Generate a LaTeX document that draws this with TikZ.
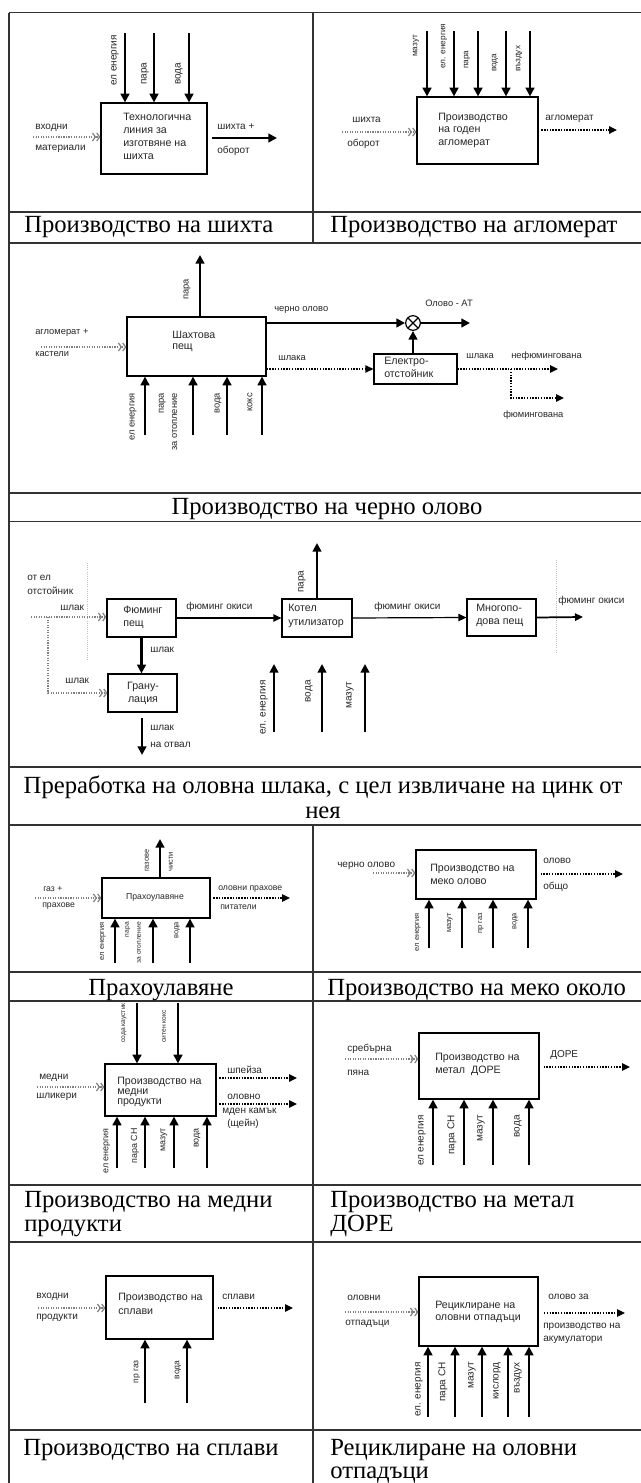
\documentclass[tikz,border=0pt]{standalone}
\usepackage{fontspec}
\setmainfont{Liberation Serif}
\setsansfont{Liberation Sans}
\usetikzlibrary{arrows.meta,fit}

% helpers: a feed from a named point to a box side, plain and rotated labels
\newcommand\mkfeed[4]{\coordinate (#1) at (#2,#3); \draw[feed] (#1) -- (#1 |- #4);}
\newcommand\mklabel[4]{\node[lbl,anchor=west] (#1) at (#2,#3) {#4};}
\newcommand\mkvlabel[5]{\node[vlbl,anchor=#4] (#1) at (#2,#3) {#5};}
\newcommand\sz[2]{\sffamily\fontsize{#1}{#2}\selectfont}

\begin{document}
\begin{tikzpicture}[x=0.75pt,y=-0.75pt,
  rule/.style={line width=0.9pt,black!80},
  caption/.style={font=\rmfamily\fontsize{18.5}{24}\selectfont,inner sep=0pt},
  lbl/.style={font=\sz{7.5}{9.5},inner sep=0pt,text=black!85},
  vlbl/.style={lbl,rotate=90},
  boxtext/.style={lbl,align=left,anchor=north west},
  proc/.style={draw,line width=0.9pt,inner sep=0pt},
  feed/.style={line width=1.6pt,-{Triangle[length=6.5pt,width=6.5pt]}},
  inflow/.style={gray,densely dotted,line width=0.9pt,
    -{Straight Barb[length=2.2pt,width=6pt]Straight Barb[length=2.2pt,width=6pt]}},
  outflow/.style={densely dotted,line width=1.1pt,-{Triangle[length=6pt,width=5.5pt]}},
  flow/.style={line width=0.9pt,-{Triangle[length=6pt,width=5.5pt]}},
  guide/.style={gray!50,densely dotted,line width=0.6pt},
]
\useasboundingbox (0,0) rectangle (641,1483);

% ---------------- table grid ----------------
\foreach \yy in {12.7,212,243,493,521.7,767,825,972,1001,1185,1242,1430}
  \draw[rule] (9,\yy) -- (641,\yy);
\draw[rule] (9,12.7) -- (9,1483);
\draw[rule] (313,12.7) -- (313,243);
\draw[rule] (313,825) -- (313,1483);

% ---------------- captions ----------------
\node[caption,anchor=base west] (capA) at (24,233) {Производство на шихта};
\node[caption,anchor=base west] (capB) at (330,233) {Производство на агломерат};
\node[caption,anchor=base] (capC) at (327,514) {Производство на черно олово};
\node[caption,anchor=base] (capD1) at (323,793) {Преработка на оловна шлака, с цел извличане на цинк от};
\node[caption,anchor=base] (capD2) at (323,818) {нея};
\node[caption,anchor=base] (capE) at (161,995) {Прахоулавяне};
\node[caption,anchor=base west] (capF) at (327,995) {Производство на меко около};
\node[caption,anchor=base west] (capG1) at (24,1207) {Производство на медни};
\node[caption,anchor=base west] (capG2) at (24,1231) {продукти};
\node[caption,anchor=base west] (capH1) at (330,1207) {Производство на метал};
\node[caption,anchor=base west] (capH2) at (330,1231) {ДОРЕ};
\node[caption,anchor=base west] (capI) at (23,1455) {Производство на сплави};
\node[caption,anchor=base west] (capJ1) at (330,1455) {Рециклиране на оловни};
\node[caption,anchor=base west] (capJ2) at (330,1478) {отпадъци};

% ---------------- charge preparation ----------------
\node[proc,fit={(101,103) (207,174)}] (charge) {};
\node[boxtext,font=\sz{8}{9.8}] (chargeT) at (123,113)
  {Технологична\\линия за\\изготвяне на\\шихта};
\mkfeed{chA}{125}{33}{charge.north}
\mkfeed{chB}{154}{33}{charge.north}
\mkfeed{chC}{189}{33}{charge.north}
\mkvlabel{chAl}{115}{86}{west}{ел  енергия}
\mkvlabel{chBl}{145}{85}{west}{пара}
\mkvlabel{chCl}{179}{85}{west}{вода}
\coordinate (chIn) at (33,137);
\draw[inflow] (chIn) -- (chIn -| charge.west);
\mklabel{chInA}{35}{128}{входни}
\mklabel{chInB}{35}{149}{материали}
\coordinate (chOut) at (277,138);
\draw[feed,shorten <=3pt] (charge.east |- chOut) -- (chOut);
\mklabel{chOutA}{217}{127}{шихта +}
\mklabel{chOutB}{217}{151}{оборот}

% ---------------- sinter production ----------------
\begin{scope}[vlbl/.append style={font=\sz{6.2}{7}}]
\node[proc,fit={(417,97) (538,164)}] (sinter) {};
\node[boxtext,font=\sz{8}{9.2}] (sinterT) at (438,113)
  {Производство\\на годен\\агломерат};
\mkfeed{snA}{427}{31}{sinter.north}
\mkfeed{snB}{454}{31}{sinter.north}
\mkfeed{snC}{478}{31}{sinter.north}
\mkfeed{snD}{506}{31}{sinter.north}
\mkfeed{snE}{530}{31}{sinter.north}
\mkvlabel{snAl}{416}{57}{west}{мазут}
\mkvlabel{snBl}{444}{69}{west}{ел. енергия}
\mkvlabel{snCl}{467}{69}{west}{пара}
\mkvlabel{snDl}{495}{72}{west}{вода}
\mkvlabel{snEl}{519}{72}{west}{въздух}
\coordinate (snIn) at (342,132);
\draw[inflow] (snIn) -- (snIn -| sinter.west);
\mklabel{snInA}{352}{120}{шихта}
\mklabel{snInB}{347}{144}{оборот}
\coordinate (snOut) at (617,130);
\draw[outflow,shorten <=2pt] (sinter.east |- snOut) -- (snOut);
\mklabel{snOutA}{545}{119}{агломерат}
\end{scope}

% ---------------- black lead: shaft furnace ----------------
\begin{scope}[lbl/.append style={font=\sz{7}{9}}]
\node[proc,fit={(127,317) (266,376)}] (shaft) {};
\node[boxtext,font=\sz{8}{8}] (shaftT) at (172,331) {Шахтова\\пещ};
\coordinate (shSteam) at (200,255);
\draw[feed] (shSteam |- shaft.north) -- (shSteam);
\mkvlabel{shSteamL}{187}{300}{west}{пара}
\coordinate (shIn) at (41,347);
\draw[inflow] (shIn) -- (shIn -| shaft.west);
\mklabel{shInA}{35}{333}{агломерат +}
\mklabel{shInB}{35}{354}{кастели}
\node[draw,circle,line width=0.9pt,minimum size=11pt,inner sep=0pt,
  path picture={\draw[line width=0.9pt]
    (path picture bounding box.north west) -- (path picture bounding box.south east)
    (path picture bounding box.south west) -- (path picture bounding box.north east);}]
  (mix) at (413,323) {};
\draw[feed] (shaft.east |- mix) -- (mix.west);
\mklabel{shLead}{274}{310}{черно олово}
\coordinate (shAT) at (470,323);
\draw[feed] (mix.east) -- (shAT);
\mklabel{shATl}{425}{303}{Олово - АТ}
\node[proc,fit={(374,354) (457,384)}] (settler) {};
\node[boxtext,font=\sz{8}{9.5}] (settlerT) at (384,357) {Електро-\\отстойник};
\draw[feed] (settler.north -| mix) -- (mix.south);
\draw[outflow] (shaft.east |- settler.west) -- (settler.west);
\mklabel{shSlag}{278}{358}{шлака}
\coordinate (slNF) at (558,369);
\coordinate (slBr) at (511,369);
\coordinate (slF) at (564,398);
\draw[outflow] (settler.east |- slNF) -- (slNF);
\draw[outflow] (slBr) |- (slF);
\mklabel{slL}{466}{356}{шлака}
\mklabel{slNFl}{511}{356}{нефюмингована}
\mklabel{slFl}{503}{415}{фюмингована}
\mkfeed{shA}{145}{435}{shaft.south}
\mkfeed{shB}{193}{435}{shaft.south}
\mkfeed{shC}{227}{435}{shaft.south}
\mkfeed{shD}{262}{435}{shaft.south}
\mkvlabel{shAl}{133}{393}{east}{ел енергия}
\node[vlbl,anchor=east,align=right,font=\sz{7}{10}] (shBl) at (168,393) {пара\\за отопление};
\mkvlabel{shCl}{218}{393}{east}{вода}
\mkvlabel{shDl}{250}{393}{east}{кокс}
\end{scope}

% ---------------- slag fuming ----------------
\mklabel{fmFromA}{27}{578}{от ел}
\mklabel{fmFromB}{27}{591}{отстойник}
\mklabel{fmSlag}{60}{608}{шлак}
\draw[guide] (87,563) -- (87,660);
\draw[guide] (556,560) -- (556,653);
\node[proc,fit={(107,599) (176,637)}] (fum) {};
\node[boxtext,font=\sz{8}{9.8}] (fumT) at (123,606) {Фюминг\\пещ};
\node[proc,fit={(108,674) (177,712)}] (gran) {};
\node[lbl,align=center,font=\sz{8}{9.8}] (granT) at (143,693) {Грану-\\лация};
\coordinate (fmIn) at (31,617);
\coordinate (fmBr) at (48,617);
\draw[inflow] (fmIn) -- (fmIn -| fum.west);
\draw[inflow] (fmBr) |- (gran.west);
\mklabel{fmBrL}{65}{681}{шлак}
\draw[feed] (fum.south) -- (fum.south |- gran.north);
\mklabel{fmDown}{150}{650}{шлак}
\coordinate (dump) at (142,755);
\draw[feed,shorten <=4pt] (gran.south -| dump) -- (dump);
\mklabel{dumpA}{150}{728}{шлак}
\mklabel{dumpB}{150}{745}{на отвал}
\node[proc,fit={(282,599) (352,637)}] (boil) {};
\node[boxtext,font=\sz{8}{10.5}] (boilT) at (288,604) {Котел\\утилизатор};
\draw[flow] (fum.east) -- (boil.west);
\mklabel{fmOx1}{186}{607}{фюминг окиси}
\coordinate (blSteam) at (317,543);
\draw[feed] (boil.north -| blSteam) -- (blSteam);
\mkvlabel{blSteamL}{302}{593}{west}{пара}
\node[proc,fit={(467,599) (536,636)}] (multi) {};
\node[boxtext,font=\sz{8}{10}] (multiT) at (476,604) {Многопо-\\дова пещ};
\draw[flow] (boil.east) -- (multi.west);
\mklabel{fmOx2}{374}{607}{фюминг окиси}
\coordinate (mhOut) at (583,617);
\draw[flow,line width=1.3pt] (multi.east) -- (mhOut);
\mklabel{fmOx3}{558}{601}{фюминг окиси}
\foreach \nm/\xx in {blA/274,blB/322,blC/365}{
  \coordinate (\nm s) at (\xx,732);
  \coordinate (\nm e) at (\xx,664);
  \draw[feed] (\nm s) -- (\nm e);
}
\mkvlabel{blAl}{264}{680}{east}{ел. енергия}
\mkvlabel{blBl}{309}{680}{east}{вода}
\mkvlabel{blCl}{350}{682}{east}{мазут}

% ---------------- dust collection ----------------
\begin{scope}[lbl/.append style={font=\sz{6.5}{8}},vlbl/.append style={font=\sz{5.6}{6.5}}]
\node[proc,fit={(102,878) (210,918)}] (dust) {};
\node[lbl] (dustT) at (155,897) {Прахоулавяне};
\coordinate (dsGas) at (160,839);
\draw[feed] (dust.north -| dsGas) -- (dsGas);
\mkvlabel{dsGasA}{147}{872}{west}{газове}
\mkvlabel{dsGasB}{171}{872}{west}{чисти}
\coordinate (dsIn) at (35,898);
\draw[inflow] (dsIn) -- (dsIn -| dust.west);
\mklabel{dsInA}{43}{889}{газ +}
\mklabel{dsInB}{42}{906}{прахове}
\coordinate (dsOut) at (290,898);
\draw[outflow,shorten <=2pt] (dust.east |- dsOut) -- (dsOut);
\mklabel{dsOutA}{218}{889}{оловни прахове}
\mklabel{dsOutB}{220}{907}{питатели}
\mkfeed{dsA}{115}{963}{dust.south}
\mkfeed{dsB}{153}{963}{dust.south}
\mkfeed{dsC}{190}{963}{dust.south}
\mkvlabel{dsAl}{103}{922}{east}{ел енергия}
\node[vlbl,anchor=east,align=right,font=\sz{5}{9}] (dsBl) at (133,922) {пара\\за отопление};
\mkvlabel{dsCl}{177}{922}{east}{вода}
\end{scope}

% ---------------- soft lead ----------------
\begin{scope}[vlbl/.append style={font=\sz{5.6}{6.5}}]
\node[proc,fit={(416,850) (536,899)}] (soft) {};
\node[boxtext,font=\sz{8}{9.5}] (softT) at (430,864) {Производство на\\меко олово};
\coordinate (sfIn) at (373,873);
\draw[inflow] (sfIn) -- (sfIn -| soft.west);
\mklabel{sfInA}{337}{866}{черно олово}
\coordinate (sfOut) at (623,874);
\draw[outflow,shorten <=3pt] (soft.east |- sfOut) -- (sfOut);
\mklabel{sfOutA}{543}{861}{олово}
\mklabel{sfOutB}{543}{887}{общо}
\mkfeed{sfA}{429}{948}{soft.south}
\mkfeed{sfB}{462}{948}{soft.south}
\mkfeed{sfC}{493}{948}{soft.south}
\mkfeed{sfD}{528}{948}{soft.south}
\mkvlabel{sfAl}{418}{913}{east}{ел енергия}
\mkvlabel{sfBl}{450}{913}{east}{мазут}
\mkvlabel{sfCl}{481}{913}{east}{пр газ}
\mkvlabel{sfDl}{515}{913}{east}{вода}
\end{scope}

% ---------------- copper products ----------------
\begin{scope}[vlbl/.append style={font=\sz{6.7}{8}}]
\node[proc,fit={(105,1064) (216,1116)}] (cu) {};
\node[boxtext,font=\sz{8}{7.6}] (cuT) at (117,1077) {Производство на\\медни\\продукти};
\mkfeed{cuTA}{137}{1003}{cu.north}
\mkfeed{cuTB}{178}{1003}{cu.north}
\node[vlbl,anchor=west,font=\sz{5}{6}] (cuTAl) at (124,1043) {сода каустик};
\node[vlbl,anchor=west,font=\sz{5}{6}] (cuTBl) at (164,1043) {ситен кокс};
\coordinate (cuIn) at (37,1087);
\draw[inflow] (cuIn) -- (cuIn -| cu.west);
\mklabel{cuInA}{39}{1078}{медни}
\mklabel{cuInB}{36}{1097}{шликери}
\coordinate (cuSp) at (297,1078);
\coordinate (cuMt) at (297,1104);
\draw[outflow,shorten <=2pt] (cu.east |- cuSp) -- (cuSp);
\draw[outflow,shorten <=2pt] (cu.east |- cuMt) -- (cuMt);
\mklabel{cuSpL}{227}{1070}{шпейза}
\mklabel{cuMtA}{227}{1097}{оловно}
\mklabel{cuMtB}{222}{1112}{мден камък}
\mklabel{cuMtC}{227}{1124}{(щейн)}
\mkfeed{cuA}{117}{1168}{cu.south}
\mkfeed{cuB}{145}{1168}{cu.south}
\mkfeed{cuC}{174}{1168}{cu.south}
\mkfeed{cuD}{207}{1168}{cu.south}
\mkvlabel{cuAl}{107}{1128}{east}{ел енергия}
\mkvlabel{cuBl}{135}{1128}{east}{пара СН}
\mkvlabel{cuCl}{164}{1128}{east}{мазут}
\mkvlabel{cuDl}{197}{1128}{east}{вода}
\end{scope}

% ---------------- Dore metal ----------------
\node[proc,fit={(419,1033) (539,1099)}] (dore) {};
\node[boxtext,font=\sz{8}{9.8}] (doreT) at (435,1053) {Производство на\\метал\ \ ДОРЕ};
\coordinate (drIn) at (345,1059);
\draw[inflow] (drIn) -- (drIn -| dore.west);
\mklabel{drInA}{347}{1049}{сребърна}
\mklabel{drInB}{347}{1073}{пяна}
\coordinate (drOut) at (630,1067);
\draw[outflow,shorten <=3pt] (dore.east |- drOut) -- (drOut);
\mklabel{drOutA}{550}{1055}{ДОРЕ}
\mkfeed{drA}{433}{1165}{dore.south}
\mkfeed{drB}{464}{1165}{dore.south}
\mkfeed{drC}{493}{1165}{dore.south}
\mkfeed{drD}{529}{1165}{dore.south}
\mkvlabel{drAl}{422}{1115}{east}{ел енергия}
\mkvlabel{drBl}{452}{1115}{east}{пара СН}
\mkvlabel{drCl}{481}{1115}{east}{мазут}
\mkvlabel{drDl}{518}{1115}{east}{вода}

% ---------------- alloys ----------------
\begin{scope}[vlbl/.append style={font=\sz{6.4}{7.5}}]
\node[proc,fit={(106,1276) (213,1339)}] (alloy) {};
\node[boxtext,font=\sz{8}{10.5}] (alloyT) at (118,1293) {Производство на\\сплави};
\coordinate (alIn) at (38,1308);
\draw[inflow] (alIn) -- (alIn -| alloy.west);
\mklabel{alInA}{36}{1297}{входни}
\mklabel{alInB}{36}{1318}{продукти}
\coordinate (alOut) at (293,1308);
\draw[outflow,shorten <=3pt] (alloy.east |- alOut) -- (alOut);
\mklabel{alOutA}{222}{1297}{сплави}
\mkfeed{alA}{145}{1403}{alloy.south}
\mkfeed{alB}{187}{1403}{alloy.south}
\mkvlabel{alAl}{137}{1360}{east}{пр газ}
\mkvlabel{alBl}{178}{1360}{east}{вода}
\end{scope}

% ---------------- lead waste recycling ----------------
\node[proc,fit={(419,1277) (538,1346)}] (recyc) {};
\node[boxtext,font=\sz{8}{9}] (recycT) at (435,1301) {Рециклиране на\\оловни отпадъци};
\coordinate (rcIn) at (345,1312);
\draw[inflow] (rcIn) -- (rcIn -| recyc.west);
\mklabel{rcInA}{347}{1298}{оловни}
\mklabel{rcInB}{345}{1324}{отпадъци}
\coordinate (rcOut) at (625,1313);
\draw[outflow,shorten <=4pt] (recyc.east |- rcOut) -- (rcOut);
\mklabel{rcOutA}{548}{1297}{олово за}
\mklabel{rcOutB}{543}{1327}{производство на}
\mklabel{rcOutC}{543}{1340}{акумулатори}
\mkfeed{rcA}{428}{1417}{recyc.south}
\mkfeed{rcB}{455}{1417}{recyc.south}
\mkfeed{rcC}{482}{1417}{recyc.south}
\mkfeed{rcD}{508}{1417}{recyc.south}
\mkfeed{rcE}{529}{1417}{recyc.south}
\mkvlabel{rcAl}{419}{1362}{east}{ел. енергия}
\mkvlabel{rcBl}{443}{1362}{east}{пара СН}
\mkvlabel{rcCl}{472}{1362}{east}{мазут}
\mkvlabel{rcDl}{497}{1362}{east}{кислорд}
\mkvlabel{rcEl}{518}{1362}{east}{въздух}
\end{tikzpicture}
\end{document}
